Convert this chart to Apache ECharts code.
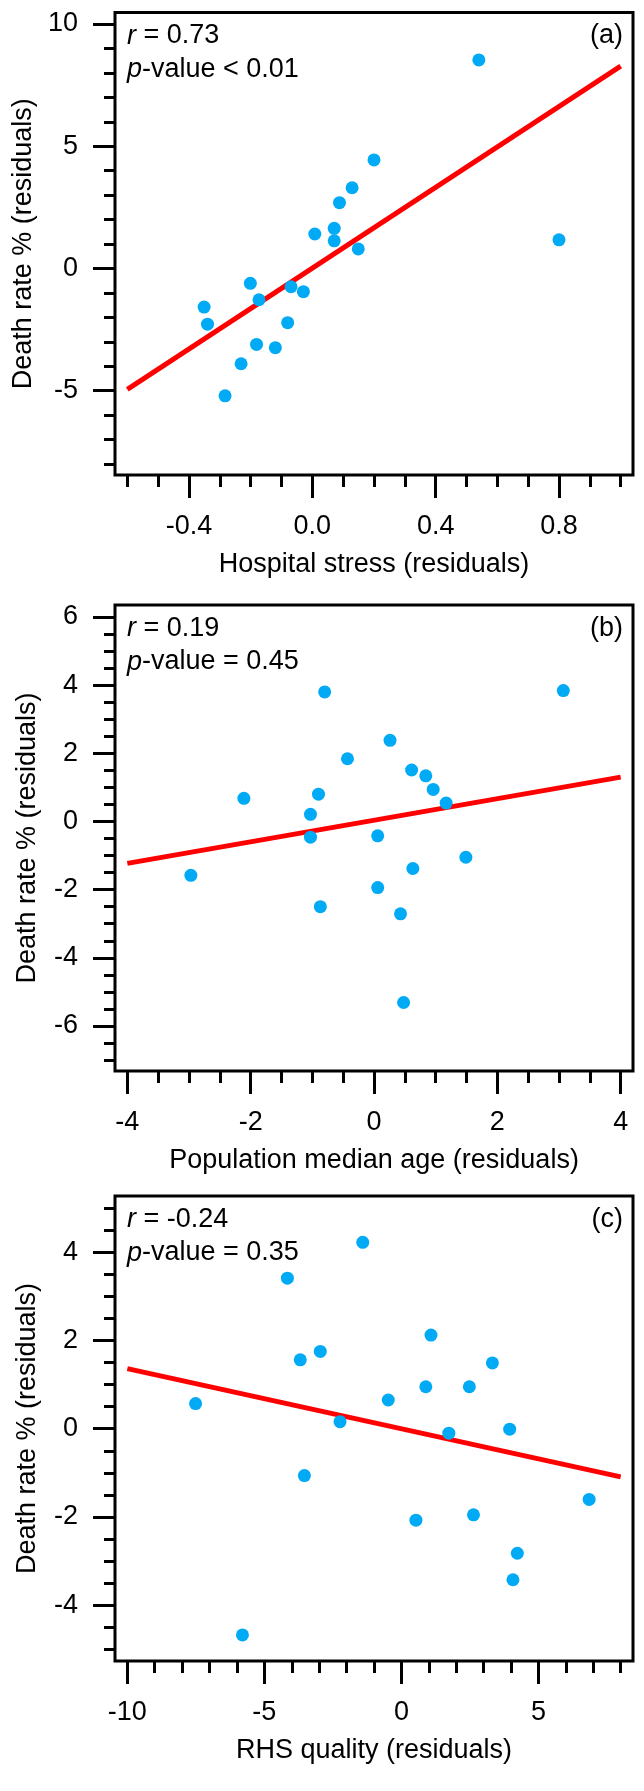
<!DOCTYPE html>
<html><head><meta charset="utf-8">
<script src="https://cdn.jsdelivr.net/npm/echarts@6/dist/echarts.min.js"></script>
<style>html,body{margin:0;padding:0;background:#fff}#c{width:644px;height:1791px}</style>
</head><body><div id="c"></div>
<script>
// ---------- Panel (a): Hospital stress ----------
const hospitalStress = [0.54, 0.80, 0.20, 0.129, 0.088, 0.008, 0.071, 0.071, 0.149, -0.201, -0.069, -0.029, -0.173, -0.351, -0.34, -0.08, -0.181, -0.12, -0.231, -0.283];
const deathRateA = [8.53, 1.17, 4.44, 3.30, 2.69, 1.41, 1.64, 1.13, 0.80, -0.61, -0.75, -0.95, -1.28, -1.58, -2.28, -2.22, -3.11, -3.24, -3.90, -5.21];
const fitAX = [-0.6, 1.0];
const fitAY = [-4.95, 8.28];
const aXMajor = [-0.4, 0.0, 0.4, 0.8];
const aXMinor = [-0.6, -0.5, -0.4, -0.3, -0.2, -0.1, 0.0, 0.1, 0.2, 0.3, 0.4, 0.5, 0.6, 0.7, 0.8, 0.9, 1.0];
const aYMajor = [-5, 0, 5, 10];
const aYMinor = [-8, -7, -6, -5, -4, -3, -2, -1, 0, 1, 2, 3, 4, 5, 6, 7, 8, 9, 10];

// ---------- Panel (b): Population median age ----------
const medianAge = [-0.80, 3.07, 0.26, -0.43, 0.61, 0.84, 0.96, 1.17, -2.11, -0.90, -1.03, -1.03, 0.06, 1.49, 0.63, -2.97, 0.06, -0.87, 0.43, 0.48];
const deathRateB = [3.80, 3.84, 2.38, 1.84, 1.51, 1.34, 0.94, 0.54, 0.68, 0.80, 0.21, -0.46, -0.42, -1.05, -1.38, -1.58, -1.94, -2.50, -2.71, -5.31];
const fitBX = [-4, 4];
const fitBY = [-1.23, 1.30];
const bXMajor = [-4, -2, 0, 2, 4];
const bXMinor = [-4, -3.5, -3, -2.5, -2, -1.5, -1, -0.5, 0, 0.5, 1, 1.5, 2, 2.5, 3, 3.5, 4];
const bYMajor = [-6, -4, -2, 0, 2, 4, 6];
const bYMinor = [-7, -6.5, -6, -5.5, -5, -4.5, -4, -3.5, -3, -2.5, -2, -1.5, -1, -0.5, 0, 0.5, 1, 1.5, 2, 2.5, 3, 3.5, 4, 4.5, 5, 5.5, 6];

// ---------- Panel (c): RHS quality ----------
const rhsQuality = [-1.41, -4.16, 1.08, -2.96, -3.69, 3.32, 0.89, 2.48, -0.48, -7.51, -2.24, 1.73, 3.95, -3.54, 6.85, 2.63, 0.53, 4.23, 4.07, -5.80];
const deathRateC = [4.22, 3.41, 2.12, 1.75, 1.56, 1.49, 0.95, 0.95, 0.65, 0.57, 0.16, -0.10, -0.01, -1.06, -1.60, -1.95, -2.07, -2.82, -3.42, -4.67];
const fitCX = [-10, 8];
const fitCY = [1.36, -1.09];
const cXMajor = [-10, -5, 0, 5];
const cXMinor = [-10, -9, -8, -7, -6, -5, -4, -3, -2, -1, 0, 1, 2, 3, 4, 5, 6, 7, 8];
const cYMajor = [-4, -2, 0, 2, 4];
const cYMinor = [-5, -4.5, -4, -3.5, -3, -2.5, -2, -1.5, -1, -0.5, 0, 0.5, 1, 1.5, 2, 2.5, 3, 3.5, 4, 4.5, 5];

const annR = ['0.73', '0.19', '-0.24'];
const annP = ['< 0.01', '= 0.45', '= 0.35'];
const panelTags = ['(a)', '(b)', '(c)'];
const xTitles = ['Hospital stress (residuals)', 'Population median age (residuals)', 'RHS quality (residuals)'];
const yTitle = 'Death rate % (residuals)';

const FONT = '"Liberation Sans", Arial, sans-serif';
const FS = 27;
const DOT = '#00AAF5';

const panels = [
  {top: 12.5, height: 462.5, xr: [-0.64, 1.04], yr: [-8.45, 10.47], xs: hospitalStress, ys: deathRateA, fx: fitAX, fy: fitAY,
   xMaj: aXMajor, xMin: aXMinor, yMaj: aYMajor, yMin: aYMinor, xfmt: v => v.toFixed(1)},
  {top: 605, height: 466, xr: [-4.2, 4.2], yr: [-7.32, 6.35], xs: medianAge, ys: deathRateB, fx: fitBX, fy: fitBY,
   xMaj: bXMajor, xMin: bXMinor, yMaj: bYMajor, yMin: bYMinor, xfmt: v => String(Math.round(v))},
  {top: 1196, height: 465, xr: [-10.45, 8.45], yr: [-5.26, 5.27], xs: rhsQuality, ys: deathRateC, fx: fitCX, fy: fitCY,
   xMaj: cXMajor, xMin: cXMinor, yMaj: cYMajor, yMin: cYMinor, xfmt: v => String(Math.round(v))}
];

const LEFT = 115, WIDTH = 518;
const grid = [], xAxis = [], yAxis = [], series = [], graphic = [];

panels.forEach((p, i) => {
  grid.push({left: LEFT, top: p.top, width: WIDTH, height: p.height, show: true, borderColor: '#000', borderWidth: 3, backgroundColor: 'transparent', containLabel: false});
  const common = {type: 'value', gridIndex: i, splitLine: {show: false}, axisLine: {show: false, onZero: false}};
  xAxis.push(Object.assign({}, common, {
    position: 'bottom', min: p.xr[0], max: p.xr[1],
    name: xTitles[i], nameLocation: 'middle', nameGap: 76,
    nameTextStyle: {fontFamily: FONT, fontSize: FS, color: '#000'},
    axisTick: {show: true, inside: false, length: 23, customValues: p.xMaj, lineStyle: {color: '#000', width: 3}},
    axisLabel: {show: true, margin: 38, customValues: p.xMaj, formatter: p.xfmt, fontFamily: FONT, fontSize: FS, color: '#000'}
  }));
  xAxis.push(Object.assign({}, common, {
    position: 'bottom', offset: 0, min: p.xr[0], max: p.xr[1],
    axisTick: {show: true, inside: false, length: 12, customValues: p.xMin, lineStyle: {color: '#000', width: 3}},
    axisLabel: {show: false}
  }));
  yAxis.push(Object.assign({}, common, {
    position: 'left', min: p.yr[0], max: p.yr[1],
    name: yTitle, nameLocation: 'middle', nameGap: 74, nameRotate: 90,
    nameTextStyle: {fontFamily: FONT, fontSize: FS, color: '#000'},
    axisTick: {show: true, inside: false, length: 22, customValues: p.yMaj, lineStyle: {color: '#000', width: 3}},
    axisLabel: {show: true, margin: 37, customValues: p.yMaj, formatter: v => String(Math.round(v)), fontFamily: FONT, fontSize: FS, color: '#000'}
  }));
  yAxis.push(Object.assign({}, common, {
    position: 'left', offset: 0, min: p.yr[0], max: p.yr[1],
    axisTick: {show: true, inside: false, length: 11, customValues: p.yMin, lineStyle: {color: '#000', width: 3}},
    axisLabel: {show: false}
  }));
  series.push({
    type: 'line', xAxisIndex: 2 * i, yAxisIndex: 2 * i,
    data: p.fx.map((x, k) => [x, p.fy[k]]),
    symbol: 'none', lineStyle: {color: '#FF0000', width: 5}, z: 2, silent: true
  });
  series.push({
    type: 'scatter', xAxisIndex: 2 * i, yAxisIndex: 2 * i,
    data: p.xs.map((x, k) => [x, p.ys[k]]),
    symbol: 'circle', symbolSize: 13, itemStyle: {color: DOT, opacity: 1}, z: 3
  });
  graphic.push({
    type: 'text', x: 127, y: p.top + 23.5, z: 10,
    style: {text: '{i|r} = ' + annR[i], align: 'left', verticalAlign: 'middle', fill: '#000',
      font: FS + 'px ' + FONT, rich: {i: {fontStyle: 'italic', fontSize: FS, fontFamily: FONT, fill: '#000'}}}
  });
  graphic.push({
    type: 'text', x: 127, y: p.top + 57, z: 10,
    style: {text: '{i|p}-value ' + annP[i], align: 'left', verticalAlign: 'middle', fill: '#000',
      font: FS + 'px ' + FONT, rich: {i: {fontStyle: 'italic', fontSize: FS, fontFamily: FONT, fill: '#000'}}}
  });
  graphic.push({
    type: 'text', x: 623, y: p.top + 23.5, z: 10,
    style: {text: panelTags[i], align: 'right', verticalAlign: 'middle', fill: '#000', font: FS + 'px ' + FONT}
  });
});

const chart = echarts.init(document.getElementById('c'), null, {renderer: 'canvas', width: 644, height: 1791});
chart.setOption({
  animation: false,
  backgroundColor: '#fff',
  grid, xAxis, yAxis, series, graphic
});
</script></body></html>
